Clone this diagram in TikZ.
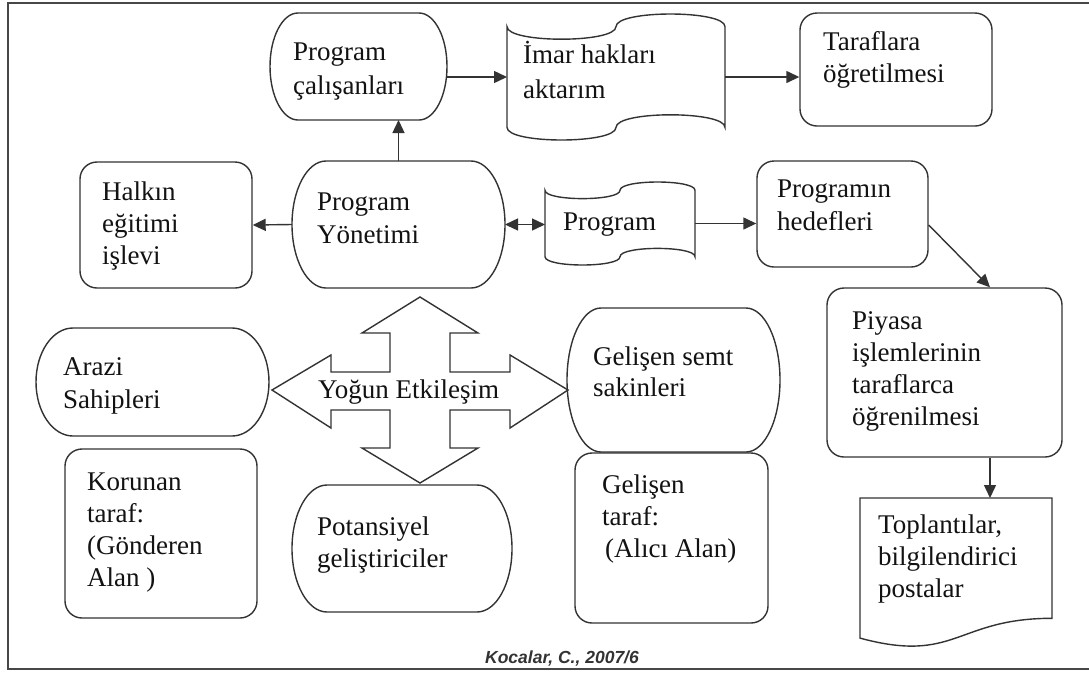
\documentclass[tikz,border=0pt]{standalone}
\usepackage{fontspec}
\setmainfont{Liberation Serif}
\newfontfamily\capfont{Liberation Sans}
\usetikzlibrary{arrows.meta,calc}

\definecolor{edge}{HTML}{333333}
\definecolor{ink}{HTML}{121212}

\tikzset{
  shapeline/.style={draw=edge, line width=1.4pt},
  holder/.style={inner sep=0pt, outer sep=0pt},
  roundbox/.style={shapeline, rounded corners=17pt, inner sep=0pt},
  % text blocks are placed by the baseline of their last line
  txt/.style={anchor=base west, align=left, inner sep=0pt, text=ink,
              font=\fontsize{27}{32}\selectfont},
  tip/.tip={Triangle[length=13pt,width=12pt]},
  conn/.style={draw=edge, line width=1.4pt, -tip},
}

% flowchart terminator: straight top and bottom, elliptic sides of width #2 (a length)
\newcommand\drawterminator[2]{%
  \path[shapeline] let \p1=(#1.north west), \p2=(#1.south east),
    \n1={#2}, \n2={0.5523*#2}, \n4={0.2762*(\y1-\y2)}, \n5={0.5*(\y1+\y2)} in
    ({\x1+\n1},\y1) -- ({\x2-\n1},\y1)
    .. controls ({\x2-\n1+\n2},\y1) and (\x2,{\n5+\n4}) .. (\x2,{\n5})
    .. controls (\x2,{\n5-\n4}) and ({\x2-\n1+\n2},\y2) .. ({\x2-\n1},\y2)
    -- ({\x1+\n1},\y2)
    .. controls ({\x1+\n1-\n2},\y2) and (\x1,{\n5-\n4}) .. (\x1,{\n5})
    .. controls (\x1,{\n5+\n4}) and ({\x1+\n1-\n2},\y1) .. cycle;}

% punched tape: wavy top and bottom edges
\newcommand\drawtape[1]{%
  \path[shapeline] let \p1=(#1.north west), \p2=(#1.south east),
    \n1={0.1*(\y1-\y2)}, \n2={0.5*(\x1+\x2)}, \n3={0.1333*(\y1-\y2)} in
    (\x1,{\y1-\n1})
    .. controls (\x1,{\y1-\n1-\n3}) and ({\n2},{\y1-\n1-\n3}) .. ({\n2},{\y1-\n1})
    .. controls ({\n2},{\y1-\n1+\n3}) and (\x2,{\y1-\n1+\n3}) .. (\x2,{\y1-\n1})
    -- (\x2,{\y2+\n1})
    .. controls (\x2,{\y2+\n1+\n3}) and ({\n2},{\y2+\n1+\n3}) .. ({\n2},{\y2+\n1})
    .. controls ({\n2},{\y2+\n1-\n3}) and (\x1,{\y2+\n1-\n3}) .. (\x1,{\y2+\n1})
    -- cycle;}

% document: flat top, curved bottom edge
\newcommand\drawdocument[1]{%
  \path[shapeline] let \p1=(#1.north west), \p2=(#1.south east),
    \n1={\y1-\y2}, \n2={0.5*(\x1+\x2)} in
    (\x1,\y1) -- (\x2,\y1) -- (\x2,{\y1-0.802*\n1})
    .. controls ({\n2},{\y1-0.802*\n1}) and ({\n2},{\y1-1.1075*\n1})
    .. (\x1,{\y1-0.934*\n1}) -- cycle;}

\begin{document}
\begin{tikzpicture}[x=1pt,y=-1pt]
\useasboundingbox (0,0) rectangle (1089,673);
\fill[white] (0,0) rectangle (1089,673);

% outer frame
\draw[line width=2pt, draw=black!72] (8,3) rectangle (1110,669);

% ---- top row
\node[holder, minimum width=177pt, minimum height=107pt] (cal) at (358.5,66.5) {};
\drawterminator{cal}{28pt}
\node[txt, font=\fontsize{27}{34}\selectfont] (calt) at (293,94) {Program\\çalışanları};

\node[holder, minimum width=218pt, minimum height=126pt] (imar) at (616,77) {};
\drawtape{imar}
\node[txt, font=\fontsize{27}{35}\selectfont] (imart) at (523,98) {İmar hakları\\aktarım};

\node[roundbox, minimum width=192pt, minimum height=113pt] (tar) at (896,69.5) {};
\node[txt] (tart) at (823,82) {Taraflara\\öğretilmesi};

% ---- second row
\node[roundbox, minimum width=172pt, minimum height=126pt] (halk) at (166,225) {};
\node[txt] (halkt) at (102,264) {Halkın\\eğitimi\\işlevi};

\node[holder, minimum width=213pt, minimum height=127pt] (yon) at (398.5,224.5) {};
\drawterminator{yon}{34pt}
\node[txt, font=\fontsize{27}{33}\selectfont] (yont) at (317,243) {Program\\Yönetimi};

\node[holder, minimum width=150pt, minimum height=83pt] (prog) at (620,223.5) {};
\drawtape{prog}
\node[txt] (progt) at (563,230) {Program};

\node[roundbox, minimum width=171pt, minimum height=106pt] (hed) at (842.5,214) {};
\node[txt, font=\fontsize{27}{33}\selectfont] (hedt) at (777,230) {Programın\\hedefleri};

% ---- right column
\node[roundbox, minimum width=235pt, minimum height=169pt] (piy) at (944.5,372.5) {};
\node[txt] (piyt) at (852,425) {Piyasa\\işlemlerinin\\taraflarca\\öğrenilmesi};

\node[holder, minimum width=192pt, minimum height=150pt] (top) at (956,573) {};
\drawdocument{top}
\node[txt] (topt) at (878,597) {Toplantılar,\\bilgilendirici\\postalar};

% ---- lower left and middle
\node[holder, minimum width=233pt, minimum height=108pt] (arazi) at (152.5,382) {};
\drawterminator{arazi}{37pt}
\node[txt, font=\fontsize{27}{33}\selectfont] (arazit) at (63,408) {Arazi\\Sahipleri};

\node[roundbox, minimum width=192pt, minimum height=169pt] (kor) at (161,533.5) {};
\node[txt] (kort) at (87,586) {Korunan\\taraf:\\(Gönderen\\Alan )};

\node[holder, minimum width=220pt, minimum height=127pt] (pot) at (402,548.5) {};
\drawterminator{pot}{35pt}
\node[txt] (pott) at (317,567) {Potansiyel\\geliştiriciler};

\node[holder, minimum width=213pt, minimum height=144pt] (gsemt) at (673.5,380) {};
\drawterminator{gsemt}{34pt}
\node[txt, font=\fontsize{27}{31}\selectfont] (gsemtt) at (593,396) {Gelişen semt\\sakinleri};

\node[roundbox, minimum width=193pt, minimum height=170pt] (gtar) at (671.5,538) {};
\node[txt] (gtart) at (602,557) {Gelişen\\taraf:\\\hspace{3pt}(Alıcı Alan)};

% four-way interaction arrow
\draw[shapeline, line join=miter, fill=white]
  (420,297) -- (478,333) -- (450,333) -- (450,372) -- (510,372) -- (510,355)
  -- (568,390) -- (510,428) -- (510,410) -- (450,410) -- (450,448) -- (478,448)
  -- (420,483) -- (362,448) -- (390,448) -- (390,410) -- (331,410) -- (331,428)
  -- (272,390) -- (331,355) -- (331,372) -- (390,372) -- (390,333) -- (362,333) -- cycle;
\node[txt] (etk) at (318,398) {Yoğun Etkileşim};

% connectors
\draw[conn] (yon.north) -- (yon.north |- cal.south);
\draw[conn] (imar.west -| cal.east) -- (imar.west);
\draw[conn] (imar.east) -- (imar.east -| tar.west);
\draw[conn] (yon.west) -- (halk.east);
\draw[conn, tip-tip] (yon.east) -- (yon.east -| prog.west);
\draw[conn] (prog.east) -- (prog.east -| hed.west);
\draw[conn] ([yshift=-11pt]hed.east) -- ([xshift=45.5pt]piy.north);
\draw[conn] ([xshift=45.5pt]piy.south) -- ([xshift=45.5pt]piy.south |- top.north);

% source line
\node[anchor=base, inner sep=0pt, text=black!80,
      font=\capfont\bfseries\itshape\fontsize{17.5}{20}\selectfont] (src) at (562,663)
  {Kocalar, C., 2007/6};
\end{tikzpicture}
\end{document}
